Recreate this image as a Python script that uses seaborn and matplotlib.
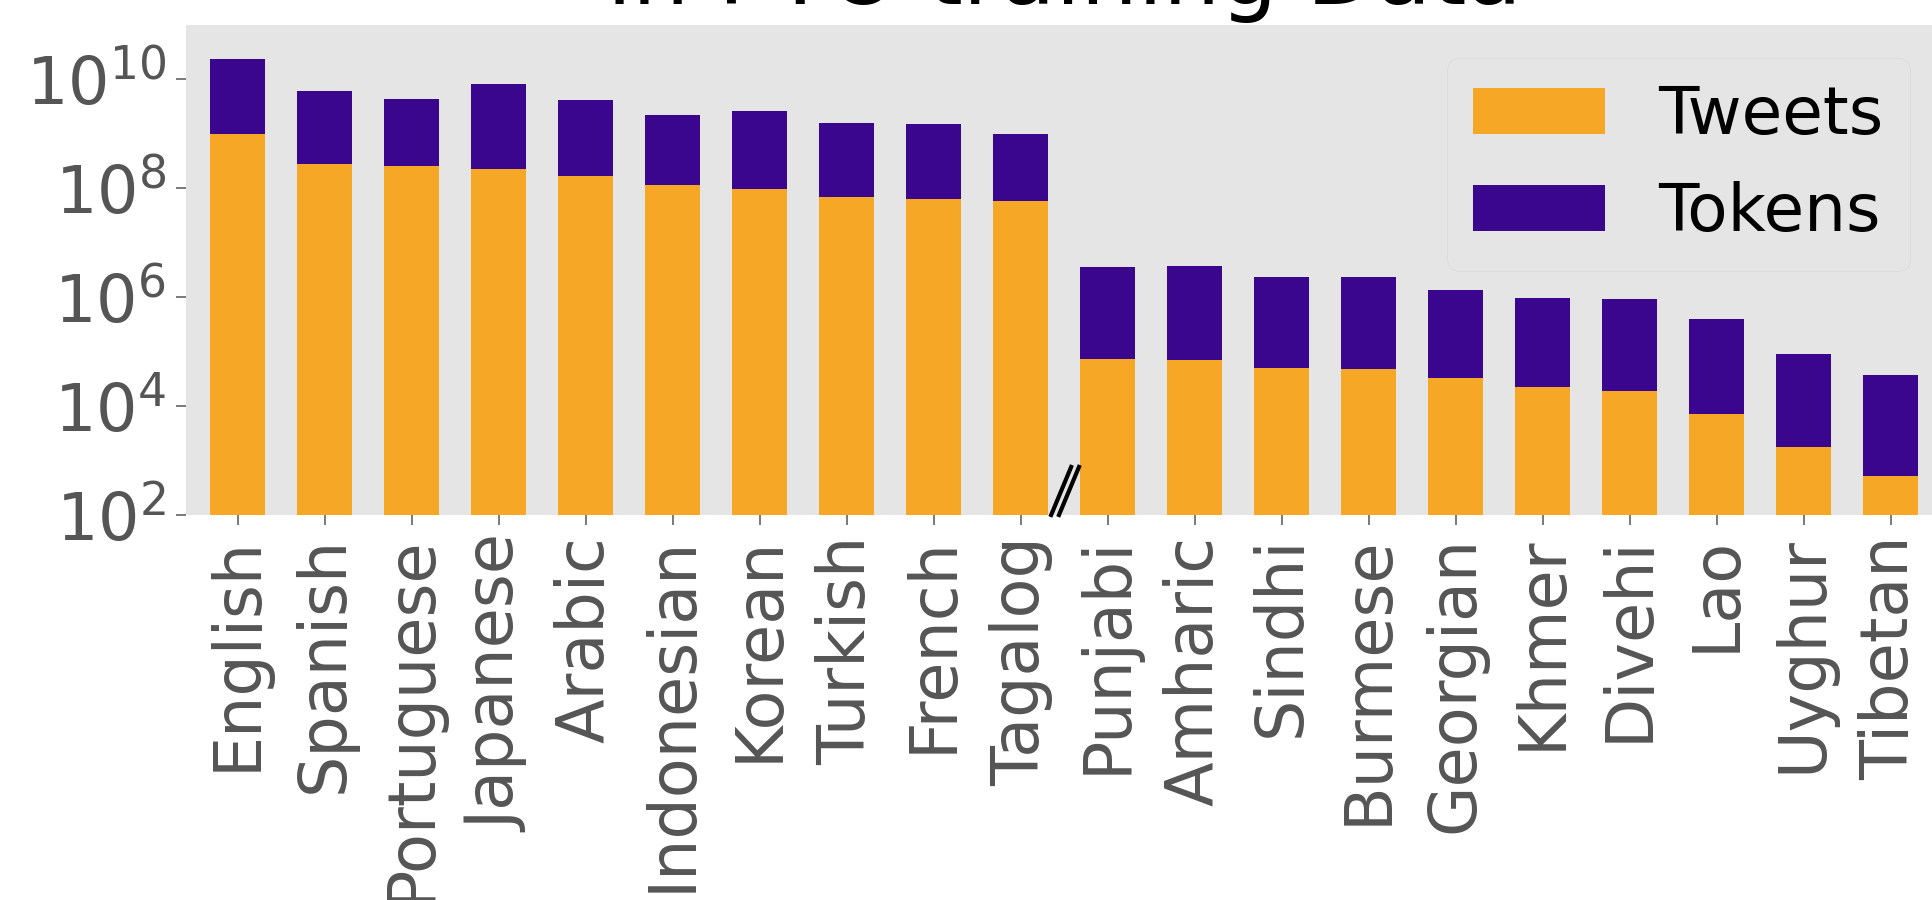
import matplotlib
matplotlib.use("Agg")
import matplotlib.pyplot as plt
import seaborn as sns
import pandas as pd
import numpy as np

languages = ["English", "Spanish", "Portuguese", "Japanese", "Arabic", "Indonesian",
             "Korean", "Turkish", "French", "Tagalog", "Punjabi", "Amharic", "Sindhi",
             "Burmese", "Georgian", "Khmer", "Divehi", "Lao", "Uyghur", "Tibetan"]
tweets = [1.0e9, 2.8e8, 2.5e8, 2.25e8, 1.64e8, 1.14e8, 9.8e7, 6.8e7, 6.4e7, 5.8e7,
          7.4e4, 7.1e4, 5.0e4, 4.8e4, 3.2e4, 2.2e4, 1.85e4, 7.0e3, 1.8e3, 5.3e2]
tokens = [2.3e10, 6.0e9, 4.4e9, 8.1e9, 4.1e9, 2.2e9, 2.6e9, 1.55e9, 1.5e9, 1.0e9,
          3.5e6, 3.7e6, 2.3e6, 2.3e6, 1.35e6, 9.6e5, 9.3e5, 3.9e5, 9.1e4, 3.7e4]
title_text = "in PTO training Data"

df = pd.DataFrame({"language": languages, "Tweets": tweets, "Tokens": tokens})

plt.style.use("ggplot")
plt.rcParams["font.family"] = ["DejaVu Sans"]
plt.rcParams["mathtext.fontset"] = "dejavusans"

ORANGE = "#F5A725"
PURPLE = "#3A068E"

fig = plt.figure(figsize=(19.32, 9.0), dpi=100)
ax = fig.add_axes([185.7 / 1932, 1 - 515 / 900, 1757 / 1932, 490.4 / 900])

sns.barplot(data=df, x="language", y="Tokens", color=PURPLE, saturation=1,
            width=0.63, ax=ax, label="Tokens")
sns.barplot(data=df, x="language", y="Tweets", color=ORANGE, saturation=1,
            width=0.63, ax=ax, label="Tweets")
ax.set_yscale("log")
ax.set_ylim(1e2, 1e11)
ax.set_xlim(-0.6, len(languages) - 0.4)
ax.set_yticks([1e2, 1e4, 1e6, 1e8, 1e10])
ax.minorticks_off()
ax.grid(False)
ax.set_xlabel("")
ax.set_ylabel("")
ax.set_facecolor("#E5E5E5")
for s in ax.spines.values():
    s.set_visible(False)

ax.tick_params(axis="both", which="major", labelsize=47, colors="#555555",
               length=7, width=1.1, pad=7)
ax.tick_params(axis="x", labelrotation=90, pad=8)

# legend (Tweets first)
handles, labels = ax.get_legend_handles_labels()
order = [labels.index("Tweets"), labels.index("Tokens")]
leg = ax.legend([handles[i] for i in order], [labels[i] for i in order],
                loc="upper right", fontsize=47.5, frameon=True, fancybox=True)
leg.get_frame().set_facecolor("#E5E5E5")
leg.get_frame().set_edgecolor("#D6D6D6")
for t in leg.get_texts():
    t.set_color("black")

# axis break marker
trans = matplotlib.transforms.blended_transform_factory(ax.transData, ax.transAxes)
for dx in (0.0, 0.09):
    ax.plot([9.35 + dx, 9.58 + dx], [0.0, 0.098], color="black", lw=3,
            transform=trans, clip_on=False, zorder=5)

ax.text(0.5, 1 + (24.6 - 4) / 490.4, title_text, transform=ax.transAxes,
        ha="center", va="baseline", fontsize=65, color="black")

fig.savefig("out.png", dpi=100)
